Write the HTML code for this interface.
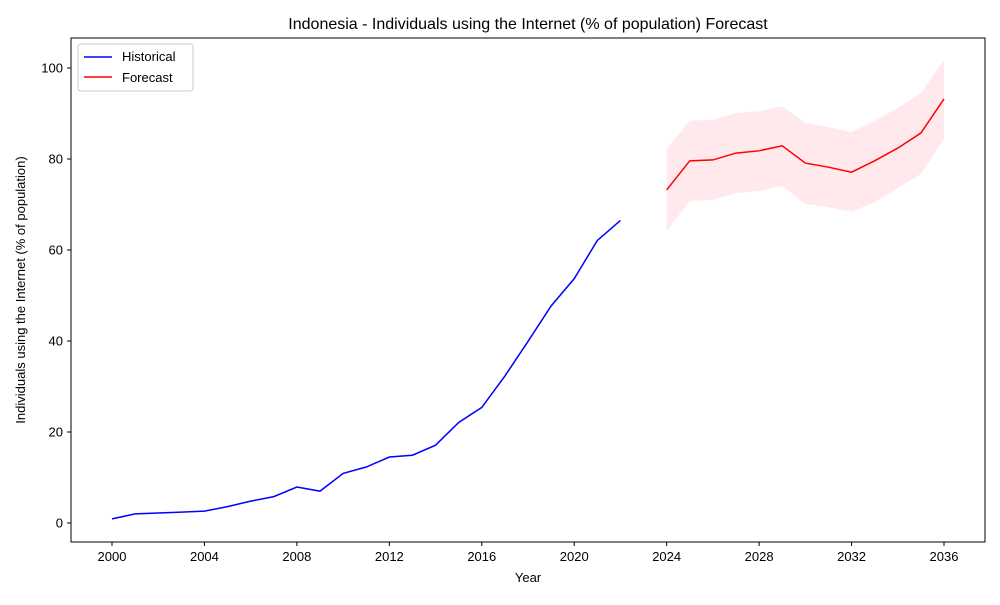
<!DOCTYPE html>
<html><head><meta charset="utf-8"><style>
body{margin:0;background:#fff;}
svg{font-family:"Liberation Sans","DejaVu Sans",sans-serif;}
</style></head><body>
<svg id="chart" width="1000" height="600">
<rect x="71" y="38" width="914" height="504" fill="none" stroke="#000" stroke-width="1"/>
<text x="528" y="29" font-size="16" text-anchor="middle">Indonesia - Individuals using the Internet (% of population) Forecast</text>
<text x="528" y="582" font-size="13" text-anchor="middle">Year</text>
<text x="25" y="290" font-size="13" text-anchor="middle" transform="rotate(-90 25 290)">Individuals using the Internet (% of population)</text>
<g id="g-band"></g><g id="g-lines"></g><g id="g-ticks"></g>
<g>
<rect x="78" y="44" width="115" height="47" fill="#fff" stroke="#ccc" rx="3"/>
<line x1="84" y1="57" x2="112" y2="57" stroke="blue" stroke-width="1.5"/>
<text x="122" y="61" font-size="13">Historical</text>
<line x1="84" y1="77" x2="112" y2="77" stroke="red" stroke-width="1.5"/>
<text x="122" y="82" font-size="13">Forecast</text>
</g>
</svg>
<script>
const histYears=[2000,2001,2002,2003,2004,2005,2006,2007,2008,2009,2010,2011,2012,2013,2014,2015,2016,2017,2018,2019,2020,2021,2022];
const histValues=[0.9,2.0,2.2,2.4,2.6,3.6,4.8,5.8,7.9,7.0,10.9,12.3,14.5,14.9,17.1,22.1,25.4,32.3,39.9,47.7,53.7,62.1,66.5];
const fcYears=[2024,2025,2026,2027,2028,2029,2030,2031,2032,2033,2034,2035,2036];
const fcValues=[73.2,79.6,79.8,81.3,81.8,82.9,79.1,78.2,77.1,79.6,82.4,85.7,93.2];
const fcUpper=[82.2,88.4,88.6,90.1,90.5,91.6,87.9,87.0,85.9,88.4,91.2,94.5,101.8];
const fcLower=[64.2,70.8,71.0,72.5,73.0,74.1,70.1,69.4,68.4,70.5,73.6,76.7,84.4];
const xTicks=[2000,2004,2008,2012,2016,2020,2024,2028,2032,2036];
const yTicks=[0,20,40,60,80,100];
const NS="http://www.w3.org/2000/svg";
const xs=y=>112+(y-2000)*(832/36);
const ys=v=>523-v*4.55;
function mk(tag,attrs,parent){const e=document.createElementNS(NS,tag);for(const k in attrs)e.setAttribute(k,attrs[k]);document.getElementById(parent).appendChild(e);return e;}
let bandPts=fcYears.map((y,i)=>xs(y)+","+ys(fcUpper[i])).concat(fcYears.map((y,i)=>[y,i]).reverse().map(([y,i])=>xs(y)+","+ys(fcLower[i])));
const band=mk("polygon",{points:bandPts.join(" "),fill:"#ffc0cb",opacity:"0.35"},"g-band");


const hl=mk("polyline",{points:histYears.map((y,i)=>xs(y)+","+ys(histValues[i])).join(" "),fill:"none",stroke:"blue","stroke-width":"1.5"},"g-lines");


const fl=mk("polyline",{points:fcYears.map((y,i)=>xs(y)+","+ys(fcValues[i])).join(" "),fill:"none",stroke:"red","stroke-width":"1.5"},"g-lines");


xTicks.forEach(t=>{
  mk("line",{x1:xs(t),x2:xs(t),y1:542,y2:546,stroke:"#000"},"g-ticks");
  const tx=mk("text",{x:xs(t),y:561,"font-size":"13","text-anchor":"middle"},"g-ticks");
  tx.textContent=t;
  
  
});
yTicks.forEach(t=>{
  mk("line",{x1:67,x2:71,y1:ys(t),y2:ys(t),stroke:"#000"},"g-ticks");
  const tx=mk("text",{x:63,y:ys(t)+4.5,"font-size":"13","text-anchor":"end"},"g-ticks");
  tx.textContent=t;
  
  
});
</script>
</body></html>
